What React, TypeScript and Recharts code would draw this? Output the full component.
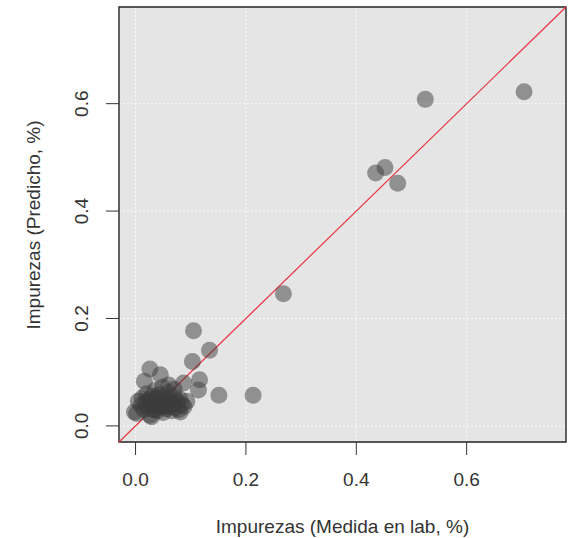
import React from 'react';
import { ScatterChart, Scatter, XAxis, YAxis, CartesianGrid, ReferenceLine, ReferenceArea, Label } from 'recharts';

// measured (lab) vs predicted impurity, %
const medida = [
  0.704, 0.525, 0.452, 0.435, 0.475, 0.268, 0.105, 0.134, 0.103, 0.151,
  0.213, 0.116, 0.114, 0.087, 0.026, 0.045, 0.016, 0.093, 0.081,
  0.002, 0.005, 0.010, 0.012, 0.015, 0.018, 0.020, 0.022, 0.024, 0.026,
  0.028, 0.030, 0.031, 0.033, 0.035, 0.036, 0.038, 0.040, 0.041, 0.043,
  0.045, 0.047, 0.049, 0.050, 0.052, 0.054, 0.056, 0.058, 0.060, 0.062,
  0.064, 0.066, 0.068, 0.070, 0.072, 0.075, 0.078, 0.080, 0.084, 0.088,
  0.030, 0.060, 0.070, 0.040, 0.025, 0.050, 0.035, 0.065, -0.002, 0.029,
];
const predicho = [
  0.622, 0.608, 0.481, 0.471, 0.452, 0.246, 0.177, 0.141, 0.120, 0.057,
  0.057, 0.086, 0.067, 0.080, 0.106, 0.095, 0.083, 0.046, 0.026,
  0.023, 0.046, 0.038, 0.052, 0.030, 0.044, 0.060, 0.035, 0.048, 0.020,
  0.040, 0.055, 0.030, 0.045, 0.066, 0.038, 0.050, 0.028, 0.042, 0.058,
  0.035, 0.047, 0.072, 0.025, 0.040, 0.052, 0.032, 0.044, 0.062, 0.036,
  0.048, 0.028, 0.040, 0.055, 0.034, 0.045, 0.030, 0.050, 0.040, 0.036,
  0.040, 0.076, 0.068, 0.052, 0.045, 0.036, 0.030, 0.042, 0.026, 0.017,
];
const ticks = [0, 0.2, 0.4, 0.6];
const lims = [-0.03, 0.78];

const data = medida.map((m, i) => ({ medida: m, predicho: predicho[i] }));

const font = '"Liberation Sans", Arial, sans-serif';
const ink = '#333';

const XTick = (props: any) => (
  <text x={props.x} y={props.y + 29} textAnchor="middle" fill={ink} fontSize={19} fontFamily={font}>
    {Number(props.payload.value).toFixed(1)}
  </text>
);

const YTick = (props: any) => {
  const x = props.x - 16;
  return (
    <text x={x} y={props.y} transform={`rotate(-90, ${x}, ${props.y})`} textAnchor="middle" fill={ink} fontSize={19} fontFamily={font}>
      {Number(props.payload.value).toFixed(1)}
    </text>
  );
};

const Dot = (props: any) => <circle cx={props.cx} cy={props.cy} r={8.5} fill="#3c3c3c" fillOpacity={0.5} />;

export default function App() {
  return (
    <div style={{ position: 'absolute', left: 0, top: 0 }}>
      <ScatterChart width={577} height={538} margin={{ top: 7, right: 11, bottom: 0, left: 0 }}>
        <CartesianGrid fill="#e5e5e5" stroke="#fafafa" strokeDasharray="2 2" />
        <XAxis
          type="number"
          dataKey="medida"
          domain={lims}
          ticks={ticks}
          allowDataOverflow
          height={96}
          axisLine={false}
          tickSize={13}
          tickLine={{ stroke: ink }}
          tick={<XTick />}
        >
          <Label value="Impurezas (Medida en lab, %)" position="insideBottom" offset={5} fill={ink} fontSize={19} fontFamily={font} />
        </XAxis>
        <YAxis
          type="number"
          dataKey="predicho"
          domain={lims}
          ticks={ticks}
          allowDataOverflow
          width={119}
          axisLine={false}
          tickSize={13}
          tickLine={{ stroke: ink }}
          tick={<YTick />}
        >
          <Label
            content={() => (
              <text x={40} y={225} transform="rotate(-90, 40, 225)" textAnchor="middle" fill={ink} fontSize={19} fontFamily={font}>
                Impurezas (Predicho, %)
              </text>
            )}
          />
        </YAxis>
        <Scatter data={data} shape={<Dot />} isAnimationActive={false} />
        <ReferenceLine
          segment={[{ x: lims[0], y: lims[0] }, { x: lims[1], y: lims[1] }]}
          stroke="#e8343f"
          strokeWidth={1.2}
        />
        <ReferenceArea x1={lims[0]} x2={lims[1]} y1={lims[0]} y2={lims[1]} fill="none" stroke="#222" strokeWidth={1.4} fillOpacity={0} />
      </ScatterChart>
    </div>
  );
}
